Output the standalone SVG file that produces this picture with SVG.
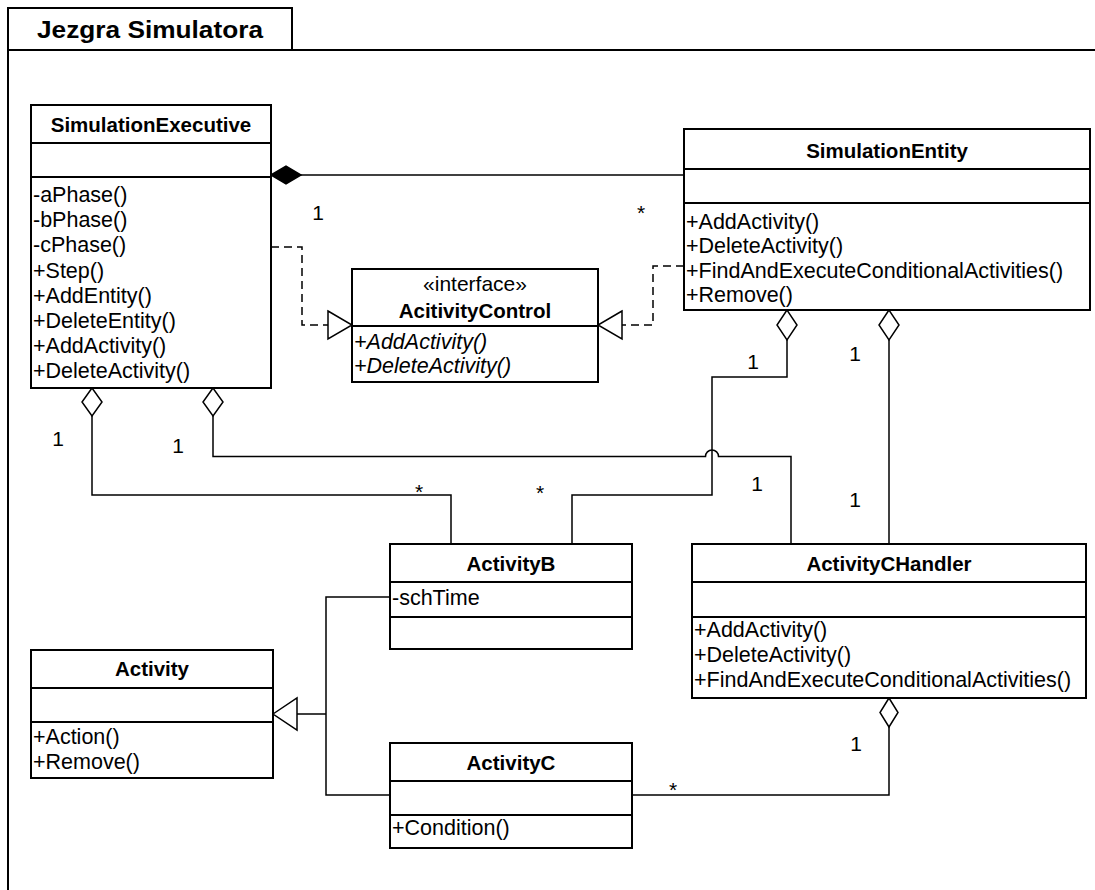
<svg xmlns="http://www.w3.org/2000/svg" width="1095" height="890" viewBox="0 0 1095 890">
<style>
.box{fill:#fff;stroke:#000;stroke-width:2}
.div{stroke:#000;stroke-width:2}
.ln{fill:none;stroke:#000;stroke-width:1.5}
.dash{fill:none;stroke:#000;stroke-width:1.5;stroke-dasharray:8 5}
.hd{fill:#fff;stroke:#000;stroke-width:1.5}
.fd{fill:#000;stroke:#000;stroke-width:1.5}
text{font-family:"Liberation Sans",Arial,sans-serif;fill:#000}
.nm{font-size:20.5px;font-weight:bold;text-anchor:middle}
.m{font-size:21.5px}
.it{font-size:21.5px;font-style:italic}
.st{font-size:21px;text-anchor:middle}
.lb{font-size:21px;text-anchor:middle}
.tt{font-size:23px;font-weight:bold}
</style>
<rect width="1095" height="890" fill="#fff"/>
<g id="frame">
<path d="M8,890 V8 H292 V50 M8,50 H1095" fill="none" stroke="#000" stroke-width="2"/>
<text class="tt" x="37" y="37.5" textLength="226" lengthAdjust="spacingAndGlyphs">Jezgra Simulatora</text>
</g>
<g id="connectors">
<path class="ln" d="M301,175 H684"/>
<path class="fd" d="M271,175 L286,166 L301,175 L286,184 Z"/>
<path class="dash" d="M271,247 H302 V325 H328"/>
<path class="hd" d="M328,311 L352,325 L328,339 Z"/>
<path class="dash" d="M684,266 H653 V325 H622"/>
<path class="hd" d="M622,311 L598,325 L622,339 Z"/>
<path class="ln" d="M92,416 V495 H451 V544"/>
<path class="hd" d="M92,388 L82,402 L92,416 L102,402 Z"/>
<path class="ln" d="M213,416 V456.5 H705.5 A6.5,6.5 0 0 1 718.5,456.5 H791 V544"/>
<path class="hd" d="M213,388 L203,402 L213,416 L223,402 Z"/>
<path class="ln" d="M787,340 V377 H712 V495 H572 V544"/>
<path class="hd" d="M787,310 L777,325 L787,340 L797,325 Z"/>
<path class="ln" d="M889,340 V544"/>
<path class="hd" d="M889,310 L879,325 L889,340 L899,325 Z"/>
<path class="ln" d="M297,714 H326 M389,597 H326 V795 H389"/>
<path class="hd" d="M273,714 L297,698 L297,730 Z"/>
<path class="ln" d="M889,727 V795 H632"/>
<path class="hd" d="M889,698 L880,712.5 L889,727 L898,712.5 Z"/>
<text class="lb" x="318" y="219.5">1</text>
<text class="lb" x="641" y="220">*</text>
<text class="lb" x="58" y="446">1</text>
<text class="lb" x="178" y="453">1</text>
<text class="lb" x="419" y="499">*</text>
<text class="lb" x="540" y="500">*</text>
<text class="lb" x="753" y="368.5">1</text>
<text class="lb" x="855" y="360.5">1</text>
<text class="lb" x="757" y="490.5">1</text>
<text class="lb" x="855" y="506.5">1</text>
<text class="lb" x="673" y="797">*</text>
<text class="lb" x="856" y="750.5">1</text>
</g>
<g id="SimulationExecutive">
<rect class="box" x="31" y="105" width="240" height="283"/>
<path class="div" d="M31,143 H271 M31,177 H271"/>
<text class="nm" x="151" y="132">SimulationExecutive</text>
<text class="m" x="33" y="202">-aPhase()</text>
<text class="m" x="33" y="227.2">-bPhase()</text>
<text class="m" x="33" y="252.4">-cPhase()</text>
<text class="m" x="33" y="277.6">+Step()</text>
<text class="m" x="33" y="302.8">+AddEntity()</text>
<text class="m" x="33" y="328">+DeleteEntity()</text>
<text class="m" x="33" y="353.2">+AddActivity()</text>
<text class="m" x="33" y="378.4">+DeleteActivity()</text>
</g>
<g id="SimulationEntity">
<rect class="box" x="684" y="129" width="406" height="181"/>
<path class="div" d="M684,169 H1090 M684,203 H1090"/>
<text class="nm" x="887" y="157.5">SimulationEntity</text>
<text class="m" x="686" y="228.5">+AddActivity()</text>
<text class="m" x="686" y="253">+DeleteActivity()</text>
<text class="m" x="686" y="277.5">+FindAndExecuteConditionalActivities()</text>
<text class="m" x="686" y="302">+Remove()</text>
</g>
<g id="AcitivityControl">
<rect class="box" x="352" y="269" width="246" height="113"/>
<path class="div" d="M352,326 H598"/>
<text class="st" x="475" y="291">«interface»</text>
<text class="nm" x="475" y="317.5">AcitivityControl</text>
<text class="it" x="354" y="349">+AddActivity()</text>
<text class="it" x="354" y="373">+DeleteActivity()</text>
</g>
<g id="ActivityB">
<rect class="box" x="390" y="544" width="242" height="105"/>
<path class="div" d="M390,582 H632 M390,617 H632"/>
<text class="nm" x="511" y="570.5">ActivityB</text>
<text class="m" x="392" y="605">-schTime</text>
</g>
<g id="ActivityCHandler">
<rect class="box" x="692" y="544" width="394" height="154"/>
<path class="div" d="M692,582 H1086 M692,617 H1086"/>
<text class="nm" x="889" y="570.5">ActivityCHandler</text>
<text class="m" x="694" y="637">+AddActivity()</text>
<text class="m" x="694" y="662">+DeleteActivity()</text>
<text class="m" x="694" y="687">+FindAndExecuteConditionalActivities()</text>
</g>
<g id="Activity">
<rect class="box" x="31" y="650" width="242" height="128"/>
<path class="div" d="M31,688 H273 M31,722 H273"/>
<text class="nm" x="152" y="675.5">Activity</text>
<text class="m" x="33" y="744">+Action()</text>
<text class="m" x="33" y="769">+Remove()</text>
</g>
<g id="ActivityC">
<rect class="box" x="390" y="743" width="242" height="105"/>
<path class="div" d="M390,781 H632 M390,815 H632"/>
<text class="nm" x="511" y="769.5">ActivityC</text>
<text class="m" x="392" y="835">+Condition()</text>
</g>
</svg>
